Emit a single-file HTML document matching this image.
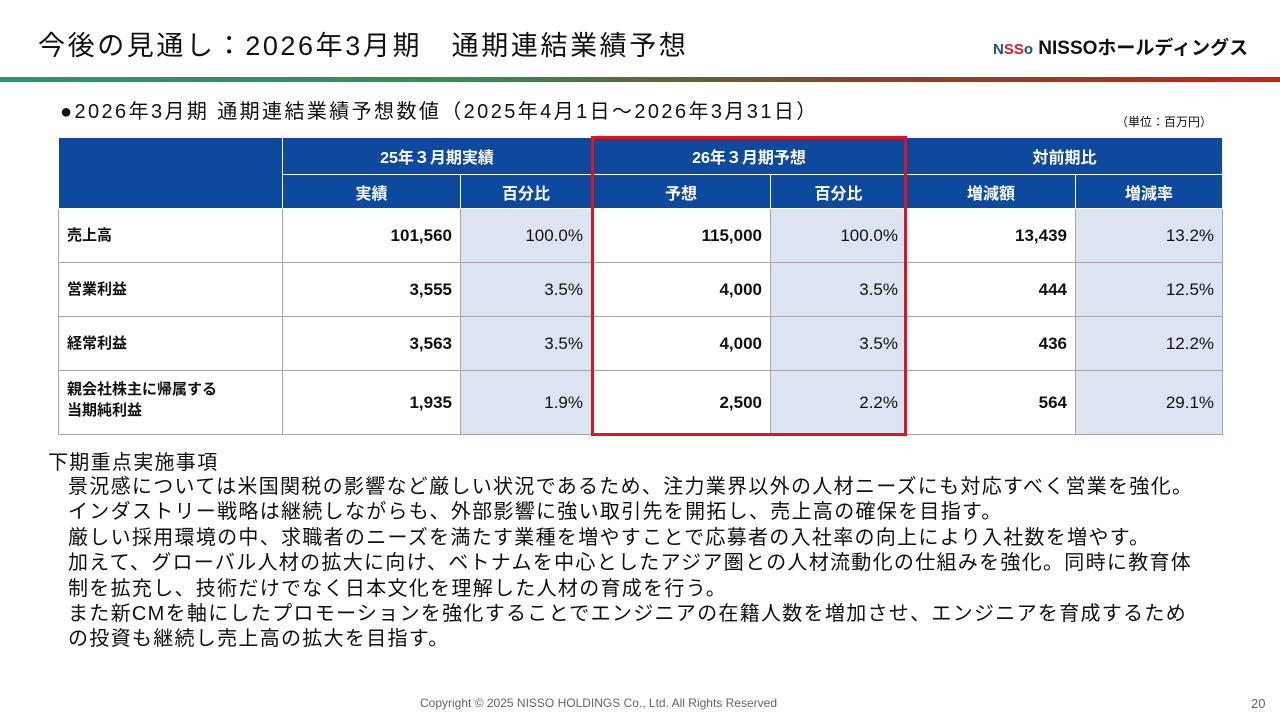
<!DOCTYPE html>
<html><head><meta charset="utf-8"><style>
*{margin:0;padding:0;box-sizing:border-box}
body{width:1280px;height:720px;background:#fff;position:relative;overflow:hidden;font-family:"Liberation Sans","Noto Sans CJK JP",sans-serif;color:#111}
.abs{position:absolute}
table{position:absolute;left:58px;top:137px;border-collapse:collapse;table-layout:fixed;width:1164px;font-size:17px}
td,th{border:1px solid #a6a6a6;padding:0 8px}
th{background:#0d4a9e;color:#fff;font-weight:bold;border-color:#fff;text-align:center;font-size:16px}
td.l{font-weight:bold;font-size:15px;vertical-align:top;padding-top:15px}
td.n{text-align:right;font-weight:bold}
td.p{text-align:right;background:#dbe4f0}
.txt{font-size:20px;line-height:25.4px;letter-spacing:1.3px}
</style></head><body>
<div class="abs" style="left:38px;top:24px;font-size:27px;letter-spacing:2.6px">今後の見通し：2026年3月期　通期連結業績予想</div>
<div class="abs" style="left:993px;top:33px;font-size:19px;font-weight:bold"><span style="color:#1b4fa0;font-size:15px">N<span style="color:#d0202a">SS</span>o</span> NISSOホールディングス</div>
<div class="abs" style="left:0;top:77px;width:1280px;height:5px;background:linear-gradient(90deg,#1f9a76,#3a8a5a 35%,#7a4a30 65%,#d41a20)"></div>
<div class="abs" style="left:60px;top:95px;font-size:20px;letter-spacing:2.4px">●2026年3月期 通期連結業績予想数値（2025年4月1日～2026年3月31日）</div>
<div class="abs" style="left:1116px;top:113px;font-size:12px">（単位：百万円）</div>
<table>
<colgroup><col style="width:224px"><col style="width:178px"><col style="width:131px"><col style="width:179px"><col style="width:136px"><col style="width:169px"><col style="width:147px"></colgroup>
<tr style="height:37px"><th rowspan="2"></th><th colspan="2">25年３月期実績</th><th colspan="2">26年３月期予想</th><th colspan="2">対前期比</th></tr>
<tr style="height:34px"><th>実績</th><th>百分比</th><th>予想</th><th>百分比</th><th>増減額</th><th>増減率</th></tr>
<tr style="height:54px"><td class="l">売上高</td><td class="n">101,560</td><td class="p">100.0%</td><td class="n">115,000</td><td class="p">100.0%</td><td class="n">13,439</td><td class="p">13.2%</td></tr>
<tr style="height:54px"><td class="l">営業利益</td><td class="n">3,555</td><td class="p">3.5%</td><td class="n">4,000</td><td class="p">3.5%</td><td class="n">444</td><td class="p">12.5%</td></tr>
<tr style="height:54px"><td class="l">経常利益</td><td class="n">3,563</td><td class="p">3.5%</td><td class="n">4,000</td><td class="p">3.5%</td><td class="n">436</td><td class="p">12.2%</td></tr>
<tr style="height:64px"><td class="l" style="padding-top:8px;line-height:21px">親会社株主に帰属する<br>当期純利益</td><td class="n">1,935</td><td class="p">1.9%</td><td class="n">2,500</td><td class="p">2.2%</td><td class="n">564</td><td class="p">29.1%</td></tr>
</table>
<div class="abs" style="left:591px;top:136px;width:316px;height:300px;border:3px solid #e0141e"></div>
<div class="abs txt" style="left:48px;top:451px">下期重点実施事項</div>
<div class="abs txt" style="left:68px;top:475px;width:1200px;white-space:nowrap">景況感については米国関税の影響など厳しい状況であるため、注力業界以外の人材ニーズにも対応すべく営業を強化。<br>インダストリー戦略は継続しながらも、外部影響に強い取引先を開拓し、売上高の確保を目指す。<br>厳しい採用環境の中、求職者のニーズを満たす業種を増やすことで応募者の入社率の向上により入社数を増やす。<br>加えて、グローバル人材の拡大に向け、ベトナムを中心としたアジア圏との人材流動化の仕組みを強化。同時に教育体<br>制を拡充し、技術だけでなく日本文化を理解した人材の育成を行う。<br>また新CMを軸にしたプロモーションを強化することでエンジニアの在籍人数を増加させ、エンジニアを育成するため<br>の投資も継続し売上高の拡大を目指す。</div>
<div class="abs" style="left:420px;top:696px;font-size:12px;color:#666">Copyright © 2025 NISSO HOLDINGS Co., Ltd. All Rights Reserved</div>
<div class="abs" style="left:1251px;top:696px;font-size:13px;color:#666">20</div>
</body></html>
